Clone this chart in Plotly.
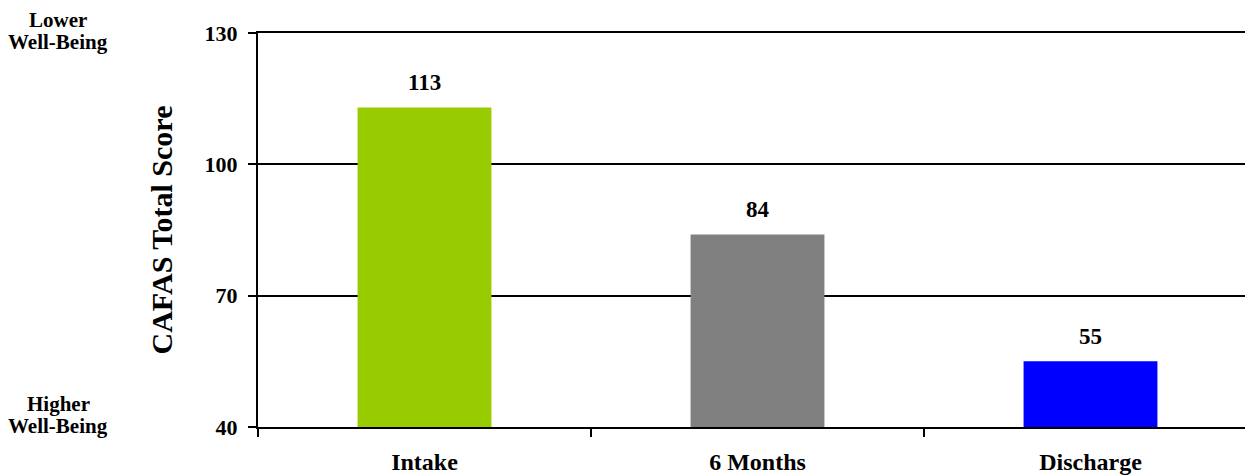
import plotly.graph_objects as go

categories = ["Intake", "6 Months", "Discharge"]
scores = [113, 84, 55]
colors = ["#99CC00", "#808080", "#0000FF"]
y_ticks = [40, 70, 100, 130]
side_labels = [("Lower", 1.034), ("Well-Being", 0.978), ("Higher", 0.058), ("Well-Being", 0.002)]

FONT = "Liberation Serif"

fig = go.Figure()
fig.add_trace(go.Bar(
    x=categories, y=scores, marker=dict(color=colors, line=dict(width=0)),
    hoverinfo="skip",
))

for c, v in zip(categories, scores):
    fig.add_annotation(x=c, y=v, text=f"<b>{v}</b>", showarrow=False,
                       yshift=25, font=dict(family=FONT, size=23, color="black"))

for txt, yp in side_labels:
    fig.add_annotation(xref="paper", yref="paper", x=-0.201, y=yp, text=f"<b>{txt}</b>",
                       showarrow=False, xanchor="center", yanchor="middle", borderpad=0,
                       font=dict(family=FONT, size=21, color="black"))

fig.update_layout(
    width=1245, height=476,
    margin=dict(l=250, r=0, t=25, b=57, autoexpand=False),
    plot_bgcolor="white", paper_bgcolor="white",
    bargap=0.598, showlegend=False,
    font=dict(family=FONT, color="black"),
    xaxis=dict(
        type="category", range=[-0.5, 2.488], tickson="boundaries", automargin=False,
        ticks="outside", ticklen=8, tickwidth=2, tickcolor="black",
        showline=True, linecolor="black", linewidth=2, mirror=True, showgrid=False,
        tickfont=dict(family=FONT, size=24, color="black", weight="bold"),
        ticklabelstandoff=12,
    ),
    yaxis=dict(
        range=[40, 130], tickvals=y_ticks, ticks="outside", ticklen=8, tickwidth=2,
        automargin=False,
        tickcolor="black", showline=True, linecolor="black", linewidth=2,
        showgrid=True, gridcolor="black", gridwidth=2, zeroline=False,
        tickfont=dict(family=FONT, size=22, color="black", weight="bold"),
        ticklabelstandoff=6,
        title=dict(text="<b>CAFAS Total Score</b>", standoff=23,
                   font=dict(family=FONT, size=30, color="black")),
    ),
)

fig.write_html("out.html")
